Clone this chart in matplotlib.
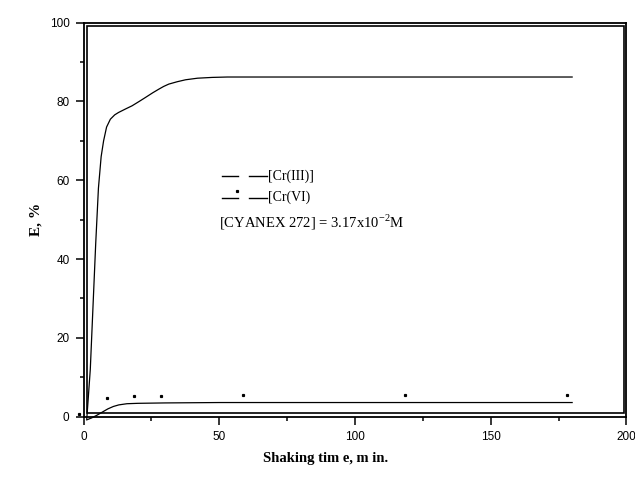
import matplotlib
matplotlib.use("Agg")
import matplotlib.pyplot as plt
from matplotlib.patches import Rectangle
from matplotlib.ticker import MultipleLocator

# Cr(III) extraction curve
t_cr3 = [1.2, 2.5, 3.5, 4.5, 5.5, 6.5, 7.4, 8.5, 9.9, 11.5, 12.9, 15.5, 17.9, 20.5,
         22.8, 25.5, 27.7, 29.5, 31.4, 34.5, 37.6, 42, 47.4, 53, 60, 100, 180]
e_cr3 = [-0.6, 12, 28, 44, 58, 66, 70, 73.5, 75.5, 76.6, 77.2, 78.1, 78.9, 80.0,
         81.0, 82.2, 83.1, 83.8, 84.4, 85.0, 85.5, 85.9, 86.1, 86.2, 86.2, 86.2, 86.2]

# Cr(VI) extraction curve
t_cr6 = [1.2, 3, 5, 7, 9, 11, 13, 16, 20, 30, 50, 100, 180]
e_cr6 = [-0.8, -0.3, 0.4, 1.2, 2.0, 2.6, 3.0, 3.3, 3.4, 3.5, 3.6, 3.6, 3.6]

# Cr(VI) point markers
t_pts = [-1.5, 8.6, 18.6, 28.5, 58.6, 118.5, 178.0]
e_pts = [0.8, 4.8, 5.3, 5.3, 5.5, 5.5, 5.5]

serif = "Liberation Serif"
sans = "Liberation Sans"

fig = plt.figure(figsize=(6.35, 4.92), dpi=100)
ax = fig.add_axes([0.1315, 0.153, 0.855, 0.801])

ax.plot(t_cr3, e_cr3, color="black", lw=0.9, clip_on=False)
ax.plot(t_cr6, e_cr6, color="black", lw=0.9, clip_on=False)
ax.plot(t_pts, e_pts, ls="none", marker="s", ms=1.3, color="black", clip_on=False)

ax.set_xlim(0, 200)
ax.set_ylim(0, 100)
ax.xaxis.set_major_locator(MultipleLocator(50))
ax.xaxis.set_minor_locator(MultipleLocator(25))
ax.yaxis.set_major_locator(MultipleLocator(20))
ax.yaxis.set_minor_locator(MultipleLocator(10))
ax.tick_params(which="both", direction="out", top=False, right=False, width=1.1)
ax.tick_params(which="major", length=6, pad=4)
ax.tick_params(which="minor", length=3)
for lab in ax.get_xticklabels() + ax.get_yticklabels():
    lab.set_fontfamily(sans)
    lab.set_fontsize(8.5)
for sp in ax.spines.values():
    sp.set_linewidth(1.3)

# inner frame of the double border
ax.add_patch(Rectangle((0.007, 0.0086), 0.988, 0.983, transform=ax.transAxes,
                       fill=False, lw=1.2, color="black", clip_on=False))

ax.set_xlabel("Shaking tim e, m in.", fontfamily=serif, fontweight="bold",
              fontsize=10.5, labelpad=4)
ax.xaxis.set_label_coords(0.446, -0.09)
ax.set_ylabel("E, %", fontfamily=serif, fontweight="bold", fontsize=11, labelpad=5)

# hand-drawn legend
tr = ax.transAxes
ax.plot([0.255, 0.285], [0.611, 0.611], color="black", lw=1.0, transform=tr)
ax.plot([0.305, 0.338], [0.611, 0.611], color="black", lw=1.0, transform=tr)
ax.text(0.340, 0.611, "[Cr(III)]", transform=tr, fontfamily=serif, fontsize=10,
        va="center", ha="left")
ax.plot([0.255, 0.285], [0.556, 0.556], color="black", lw=1.0, transform=tr)
ax.plot([0.282], [0.573], ls="none", marker="s", ms=1.3, color="black", transform=tr)
ax.plot([0.305, 0.338], [0.556, 0.556], color="black", lw=1.0, transform=tr)
ax.text(0.340, 0.556, "[Cr(VI)", transform=tr, fontfamily=serif, fontsize=10,
        va="center", ha="left")
ax.text(0.250, 0.492, r"[CYANEX 272] = 3.17x10$^{\mathregular{-2}}$M", transform=tr,
        fontfamily=serif, fontsize=10.5, va="center", ha="left")

fig.savefig("out.png", dpi=100)
